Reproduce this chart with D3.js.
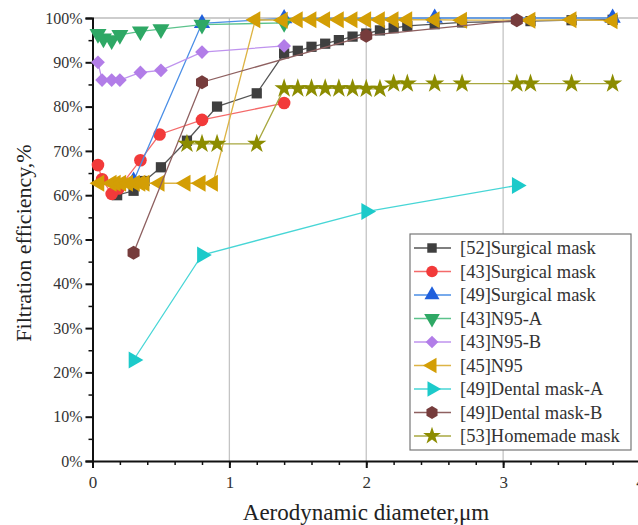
<!DOCTYPE html>
<html><head><meta charset="utf-8">
<script src="https://cdn.jsdelivr.net/npm/d3@7"></script>
<style>body{margin:0;background:#fff}svg{display:block}</style>
</head><body>
<svg id="c" width="638" height="525"></svg>
<script>
const xTicks = [0,1,2,3,4];
const yTicks = [0,10,20,30,40,50,60,70,80,90,100];
const legendNames = ["[52]Surgical mask","[43]Surgical mask","[49]Surgical mask","[43]N95-A","[43]N95-B","[45]N95","[49]Dental mask-A","[49]Dental mask-B","[53]Homemade mask"];

const s52 = [[0.18,60],[0.3,61],[0.38,63.2],[0.5,66.3],[0.69,72.3],[0.91,80],[1.2,83],[1.4,92],[1.5,92.6],[1.6,93.5],[1.7,94.2],[1.8,95],[1.9,95.8],[2.0,96.5],[2.1,97.2],[2.2,97.7],[2.3,98.2],[2.5,98.6],[2.7,99],[3.2,99.3],[3.5,99.5],[3.8,99.6]];
const s43s = [[0.04,66.8],[0.07,63.6],[0.14,60.3],[0.19,61.5],[0.35,67.9],[0.49,73.7],[0.8,77],[1.4,80.8]];
const s49s = [[0.3,63.2],[0.8,98.8],[1.4,99.9],[2.5,100],[3.8,100]];
const s43a = [[0.04,96.4],[0.08,95.4],[0.14,95],[0.2,96.2],[0.35,97],[0.5,97.5],[0.8,98.5],[1.4,98.9]];
const s43b = [[0.04,90],[0.07,86],[0.14,86],[0.2,86],[0.35,87.7],[0.5,88.2],[0.8,92.3],[1.4,93.7]];
const s45 = [[0.05,62.7],[0.14,62.7],[0.17,62.7],[0.21,62.7],[0.26,62.7],[0.31,62.7],[0.35,62.7],[0.38,62.7],[0.49,62.7],[0.68,62.7],[0.79,62.7],[0.88,62.7],[1.19,99.6],[1.39,99.5],[1.5,99.6],[1.6,99.6],[1.7,99.6],[1.8,99.6],[1.9,99.6],[2.0,99.6],[2.1,99.6],[2.2,99.6],[2.3,99.6],[2.5,99.6],[2.7,99.5],[3.2,99.5],[3.5,99.6],[3.8,99.4]];
const sDA = [[0.3,22.8],[0.8,46.5],[2.0,56.3],[3.1,62.2]];
const sDB = [[0.3,47],[0.8,85.5],[2.0,96],[3.1,99.5]];
const sHM = [[0.69,71.6],[0.8,71.6],[0.91,71.6],[1.2,71.6],[1.4,84.1],[1.5,84.1],[1.6,84.1],[1.7,84.1],[1.8,84.1],[1.9,84.1],[2.0,84],[2.1,84],[2.2,85.2],[2.3,85.2],[2.5,85.2],[2.7,85.2],[3.1,85.2],[3.2,85.2],[3.5,85.2],[3.8,85.2]];

const hexagon = {draw(ctx,size){const r=Math.sqrt(size/(1.5*Math.sqrt(3)));for(let i=0;i<6;i++){const a=Math.PI/3*i+Math.PI/6;const x=r*Math.cos(a),y=r*Math.sin(a);if(i===0)ctx.moveTo(x,y);else ctx.lineTo(x,y);}ctx.closePath();}};

const series = [
 {name:legendNames[0],data:s52,sym:d3.symbolSquare,size:105,rot:0,fill:"#3f3f3f",line:"#555555"},
 {name:legendNames[1],data:s43s,sym:d3.symbolCircle,size:125,rot:0,fill:"#f23a3a",line:"#f46a6a"},
 {name:legendNames[2],data:s49s,sym:d3.symbolTriangle,size:115,rot:0,fill:"#1f5fdc",line:"#4a8ee6"},
 {name:legendNames[3],data:s43a,sym:d3.symbolTriangle,size:125,rot:180,fill:"#2ea865",line:"#5cc38c"},
 {name:legendNames[4],data:s43b,sym:d3.symbolSquare,size:95,rot:45,fill:"#b27de8",line:"#bf93ee"},
 {name:legendNames[5],data:s45,sym:d3.symbolTriangle,size:125,rot:-90,fill:"#d39e05",line:"#ddb445"},
 {name:legendNames[6],data:sDA,sym:d3.symbolTriangle,size:125,rot:90,fill:"#1ccaca",line:"#47d6d6"},
 {name:legendNames[7],data:sDB,sym:hexagon,size:125,rot:0,fill:"#763c3c",line:"#8e6060"},
 {name:legendNames[8],data:sHM,sym:d3.symbolStar,size:115,rot:0,fill:"#8c8c00",line:"#a8a840"}
];

const svg = d3.select("#c");
const x = d3.scaleLinear().domain([0,4]).range([92.5,640]);
const y = d3.scaleLinear().domain([0,100]).range([461,18]);
const serif = "'Liberation Serif','Times New Roman',serif";

svg.append("g").selectAll("line").data([1,2,3]).join("line")
 .attr("x1",d=>x(d)).attr("x2",d=>x(d)).attr("y1",y(0)).attr("y2",y(100))
 .attr("stroke","#c4c4c4").attr("stroke-width",1.3);
svg.append("line").attr("x1",x(0)).attr("x2",x(4)).attr("y1",y(100)).attr("y2",y(100)).attr("stroke","#bdbdbd").attr("stroke-width",1.3);

const xMinor = d3.range(0,4.01,0.2);
svg.append("g").attr("transform",`translate(0,${y(0)})`)
 .call(d3.axisBottom(x).tickValues(xMinor).tickSize(4).tickFormat(""))
 .call(g=>{g.select(".domain").remove();g.selectAll("line").attr("stroke","#111").attr("stroke-width",1.5);});
const xa = svg.append("g").attr("transform",`translate(0,${y(0)})`)
 .call(d3.axisBottom(x).tickValues(xTicks).tickSize(7).tickPadding(8).tickFormat(d3.format("d")));
xa.select(".domain").attr("stroke","#111").attr("stroke-width",2);
xa.selectAll("line").attr("stroke","#111").attr("stroke-width",2);
xa.selectAll("text").attr("font-family",serif).attr("font-size",17).attr("fill","#333");

svg.append("g").attr("transform",`translate(${x(0)},0)`)
 .call(d3.axisLeft(y).tickValues(d3.range(5,100,10)).tickSize(4).tickFormat(""))
 .call(g=>{g.select(".domain").remove();g.selectAll("line").attr("stroke","#111").attr("stroke-width",1.5);});
const ya = svg.append("g").attr("transform",`translate(${x(0)},0)`)
 .call(d3.axisLeft(y).tickValues(yTicks).tickSize(7).tickPadding(3).tickFormat(d=>d+"%"));
ya.select(".domain").attr("stroke","#111").attr("stroke-width",2);
ya.selectAll("line").attr("stroke","#111").attr("stroke-width",2);
ya.selectAll("text").attr("font-family",serif).attr("font-size",16).attr("fill","#333");

svg.append("text").attr("x",366).attr("y",520).attr("text-anchor","middle")
 .attr("font-family",serif).attr("font-size",23).attr("fill","#222").text("Aerodynamic diameter,μm");
svg.append("text").attr("transform","translate(31,243) rotate(-90)").attr("text-anchor","middle")
 .attr("font-family",serif).attr("font-size",22).attr("fill","#222").text("Filtration efficiency,%");

const line = d3.line().x(d=>x(d[0])).y(d=>y(d[1]));
series.forEach(s=>{
 const g = svg.append("g");
 g.append("path").attr("d",line(s.data)).attr("fill","none").attr("stroke",s.line).attr("stroke-width",1.3);
 g.selectAll("path.m").data(s.data).join("path").attr("class","m")
  .attr("d",d3.symbol(s.sym,s.size)())
  .attr("transform",d=>`translate(${x(d[0])},${y(d[1])}) rotate(${s.rot})`)
  .attr("fill",s.fill);
});

const lg = svg.append("g");
lg.append("rect").attr("x",410).attr("y",234).attr("width",221).attr("height",216)
 .attr("fill","#fff").attr("stroke","#777").attr("stroke-width",1.2);
series.forEach((s,i)=>{
 const cy = 248 + i*23.5;
 lg.append("line").attr("x1",414).attr("x2",451).attr("y1",cy).attr("y2",cy).attr("stroke",s.line).attr("stroke-width",1.3);
 lg.append("path").attr("d",d3.symbol(s.sym,s.size*0.85)()).attr("transform",`translate(432,${cy}) rotate(${s.rot})`).attr("fill",s.fill);
 lg.append("text").attr("x",460).attr("y",cy).attr("dy","0.35em").attr("font-family",serif).attr("font-size",18.5).attr("fill","#333").text(s.name);
});
</script>
</body></html>
